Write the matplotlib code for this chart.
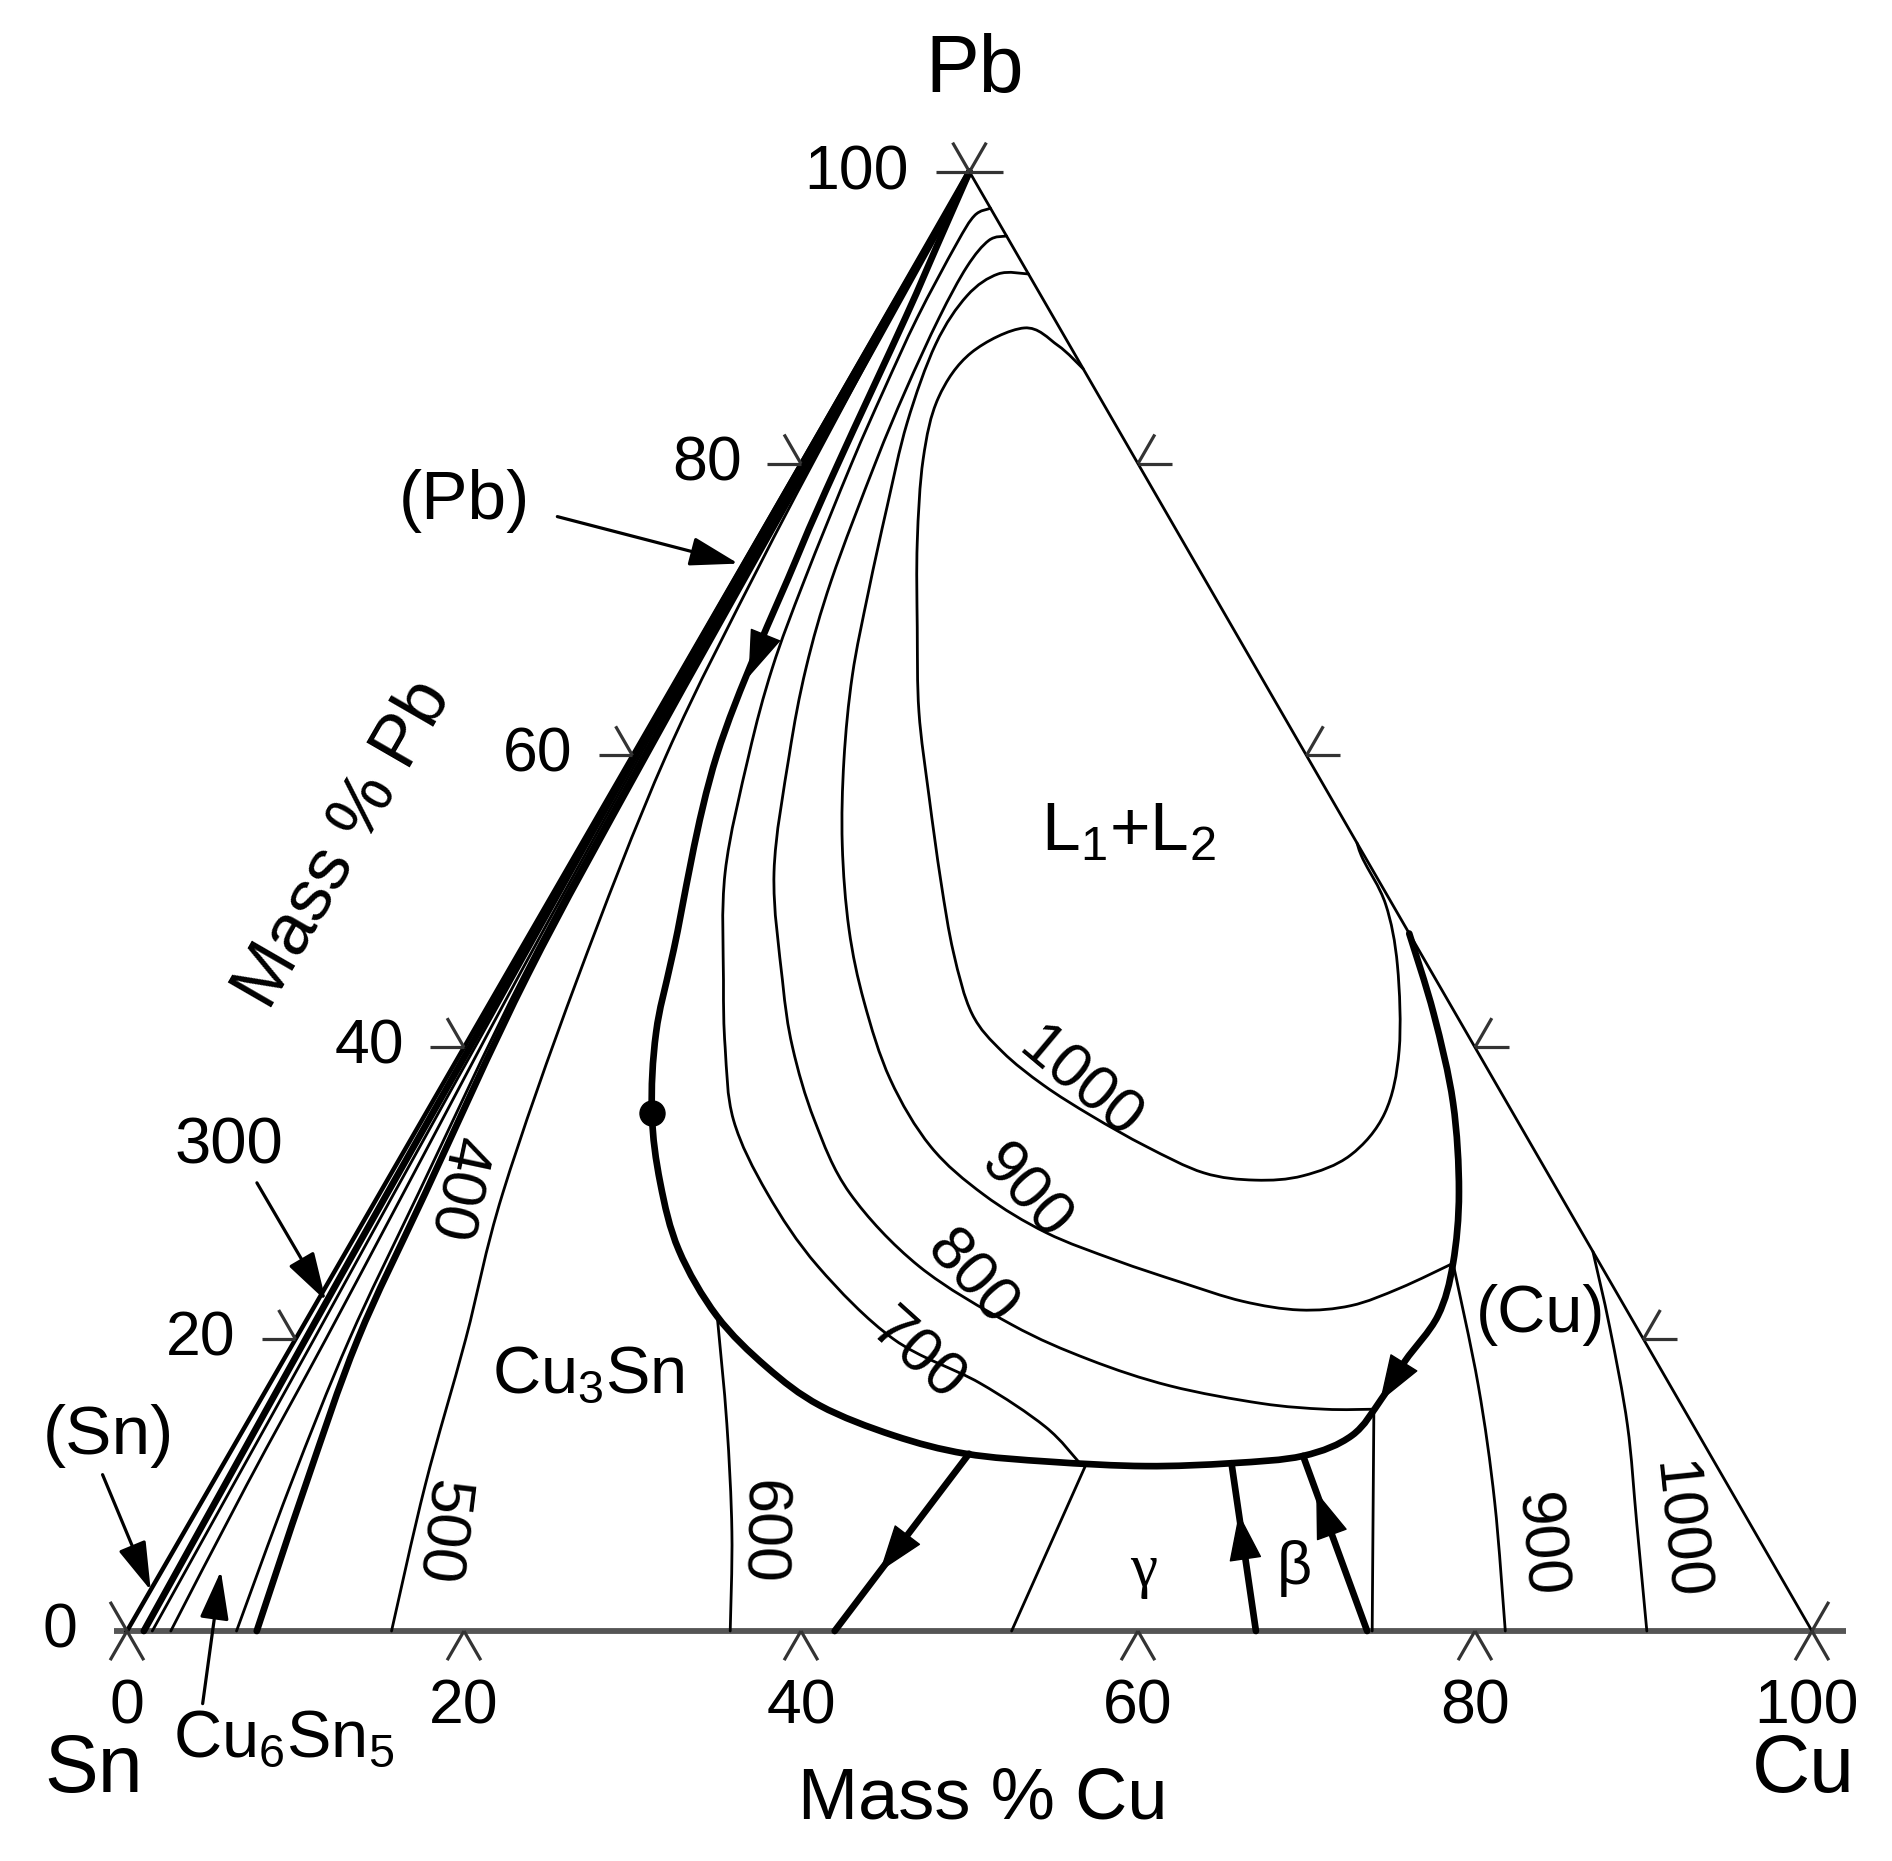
import numpy as np
import matplotlib
matplotlib.use("Agg")
import matplotlib.pyplot as plt
from matplotlib.path import Path
from matplotlib.patches import PathPatch, FancyArrowPatch

plt.rcParams['font.family'] = ['Liberation Sans', 'DejaVu Sans']
plt.rcParams['mathtext.fontset'] = 'custom'
plt.rcParams['mathtext.rm'] = 'Liberation Sans'
plt.rcParams['mathtext.it'] = 'Liberation Sans:italic'

H = np.sqrt(3) / 2

# axis ticks (mass %)
tick_values = [20, 40, 60, 80]
tick_labels = ['20', '40', '60', '80']

# every curve is a list of (mass % Cu, mass % Pb)
sn_pb_valley = [(1.0, 0), (0.8, 10), (0.6, 20), (0.45, 30), (0.3, 45), (0.15, 60), (0.08, 80), (0.03, 95), (0, 100)]
iso_300 = [(1.5, 0), (1.3, 10), (1.1, 20), (0.85, 30), (0.55, 45), (0.3, 60), (0.15, 80), (0.05, 95), (0, 100)]
near_edge = [(2.6, 0), (2.1, 10), (1.8, 20), (1.4, 30), (0.8, 45), (0.45, 60), (0.25, 80), (0.08, 95), (0, 100)]
iso_400 = [(6.5, 0), (4.7, 10), (3.2, 20), (2.3, 30), (1.05, 45), (0.6, 60), (0.33, 80), (0.1, 95), (0, 100)]
cu6sn5_cu3sn = [(7.7, 0), (5.6, 10), (3.7, 20), (2.7, 30), (1.3, 45), (0.8, 60), (0.45, 80), (0.15, 95), (0, 100)]
iso_500 = [(15.7, 0), (12.7, 10), (10.1, 20), (7.3, 30), (4.4, 44.6), (2.0, 60), (1.0, 73.4),
           (0.5, 85), (0.15, 95), (0, 100)]

monotectic = [(0.0, 100), (0.6, 95), (1.2, 90), (2.2, 80), (3.0, 73.4), (5.0, 60), (9.1, 46.7),
              (10.9, 41.0), (13.4, 35.5), (16.3, 30.7), (19.7, 26.1), (24.2, 21.6), (28.9, 18.1),
              (33.4, 15.45), (38.8, 13.4), (43.7, 12.15), (49.0, 11.6), (54.8, 11.3), (59.8, 11.5),
              (63.8, 12.0), (66.0, 13.4), (66.5, 15.9), (66.6, 18.5), (67.0, 21.6), (66.1, 25.2),
              (64.0, 30.1), (60.6, 36.2), (56.4, 42.3), (52.2, 47.8)]
invariant_point = (13.4, 35.5)

iso_600 = [(24.4, 21.3), (28.5, 14.2), (32.5, 6.8), (35.8, 0)]
iso_700 = [(2.5, 97.5), (1.8, 97.0), (1.7, 95.0), (1.9, 90.0), (2.4, 85.0), (3.0, 80.0), (4.2, 72.0),
           (5.3, 66.0), (6.9, 60.0), (9.5, 52.0), (13.1, 44.6), (15.5, 40.0), (18.5, 35.0),
           (23.0, 30.0), (28.5, 25.0), (35.5, 20.0), (42.1, 17.0), (47.5, 14.0), (50.8, 11.5)]
iso_700_gamma = [(51.2, 11.5), (52.5, 0)]
iso_800 = [(4.4, 95.6), (3.5, 95.3), (3.1, 93.5), (3.2, 90.0), (3.7, 85.0), (4.4, 80.0), (5.8, 72.0),
           (7.3, 66.0), (9.3, 60.0), (12.4, 52.0), (16.6, 44.6), (19.5, 40.0), (23.3, 35.0),
           (27.9, 30.0), (34.5, 25.0), (42.0, 21.0), (47.8, 18.6), (53.5, 16.8), (59.5, 15.6),
           (63.5, 15.2), (66.4, 15.2)]
iso_800_cu = [(66.4, 15.2), (73.9, 0)]
iso_900 = [(7.0, 93.0), (5.2, 93.0), (4.1, 91.5), (3.9, 88.2), (4.9, 82.8), (6.6, 77.0), (8.4, 71.2),
           (10.3, 65.5), (12.7, 59.7), (15.5, 53.9), (18.8, 48.1), (22.2, 43.1), (26.4, 37.8),
           (31.1, 33.2), (35.9, 29.9), (40.9, 27.3), (46.0, 25.4), (50.6, 23.9), (54.9, 22.6),
           (58.6, 22.0), (61.5, 22.3), (63.8, 23.5), (66.1, 25.2)]
iso_900_cu = [(66.1, 25.2), (71.8, 16.8), (76.75, 8.84), (81.8, 0)]
iso_1000 = [(13.5, 86.5), (11.2, 88.1), (8.6, 89.3), (6.3, 87.6), (5.9, 84.5), (7.1, 80.3), (9.6, 74.6),
            (12.5, 68.8), (15.5, 63.0), (19.0, 57.2), (22.6, 51.4), (25.8, 46.5), (29.0, 42.3),
            (32.1, 39.7), (35.7, 37.4), (39.6, 35.3), (43.9, 33.2), (48.2, 31.4), (51.5, 30.9),
            (54.2, 31.2), (56.3, 32.6), (56.9, 35.5), (55.6, 39.8), (52.6, 45.6), (49.8, 49.8),
            (46.9, 52.9), (46.0, 54.0)]
iso_1000_cu = [(74.0, 26.0), (77.6, 20.8), (82.0, 14.1), (85.9, 7.4), (90.2, 0)]

eps_gamma = [(43.9, 12.15), (42.0, 0)]
gamma_beta = [(67.0, 0), (59.8, 11.5)]
beta_cu = [(73.6, 0), (63.8, 12.0)]


def to_xy(pts):
    a = np.asarray(pts, dtype=float)
    return a[:, 0] + a[:, 1] / 2, a[:, 1] * H


def smooth_path(pts):
    # Catmull-Rom through the read points, handed to matplotlib as cubic Beziers
    x, y = to_xy(pts)
    p = np.column_stack([x, y])
    n = len(p)
    verts, codes = [p[0]], [Path.MOVETO]
    for i in range(n - 1):
        p0 = p[max(i - 1, 0)]
        p1, p2 = p[i], p[i + 1]
        p3 = p[min(i + 2, n - 1)]
        verts += [p1 + (p2 - p0) / 6, p2 - (p3 - p1) / 6, p2]
        codes += [Path.CURVE4] * 3
    return Path(verts, codes)


def draw(ax, pts, lw, color='black', z=3):
    ax.add_patch(PathPatch(smooth_path(pts), fill=False, lw=lw, edgecolor=color,
                           capstyle='round', joinstyle='round', zorder=z))


def curve_arrow(ax, pts, i, frac=0.5, reverse=False):
    x, y = to_xy(pts)
    a = np.array([x[i], y[i]])
    b = np.array([x[i + 1], y[i + 1]])
    if reverse:
        a, b = b, a
    d = (b - a) / np.hypot(*(b - a))
    mid = a + (b - a) * frac
    ax.add_patch(FancyArrowPatch(mid - d * 1.5, mid + d * 1.5,
                                 arrowstyle='-|>,head_length=1.2,head_width=0.42',
                                 mutation_scale=26, color='black', lw=1,
                                 shrinkA=0, shrinkB=0, zorder=5))


def label_arrow(ax, tail, head):
    ax.add_patch(FancyArrowPatch(tail, head, arrowstyle='-|>,head_length=1.2,head_width=0.36',
                                 mutation_scale=25, color='black', lw=2.3,
                                 shrinkA=0, shrinkB=0, zorder=5))


TL = 2.0


def tick_mark(ax, cu, pb, dirs):
    x0, y0 = cu + pb / 2, pb * H
    for dx, dy in dirs:
        ax.plot([x0, x0 + dx * TL], [y0, y0 + dy * TL], color='#333333', lw=2.3,
                solid_capstyle='butt', zorder=4)


fig = plt.figure(figsize=(18.92, 18.61), dpi=100)
ax = fig.add_axes([0, 0, 1, 1])
ax.set_xlim(-7.537, 104.75)
ax.set_ylim(-13.65, 96.80)
ax.axis('off')

# triangle sides
ax.plot([-0.8, 102.0], [0, 0], color='#555555', lw=4.2, solid_capstyle='butt', zorder=2)
xs, ys = to_xy([(0, 0), (0, 100)])
ax.plot(xs, ys, color='black', lw=3.2, zorder=2)
xs, ys = to_xy([(0, 100), (100, 0)])
ax.plot(xs, ys, color='black', lw=2.0, zorder=2)

# ticks
for v in tick_values:
    tick_mark(ax, v, 0, [(-0.5, -H), (0.5, -H)])
    tick_mark(ax, 0, v, [(-1, 0), (-0.5, H)])
    tick_mark(ax, 100 - v, v, [(1, 0), (0.5, H)])
tick_mark(ax, 0, 0, [(-0.5, H), (0.5, -H), (-0.5, -H)])
tick_mark(ax, 100, 0, [(0.5, H), (-0.5, -H), (0.5, -H)])
tick_mark(ax, 0, 100, [(-1, 0), (1, 0), (-0.5, H), (0.5, H)])

THIN, THICK = 2.0, 4.8
draw(ax, sn_pb_valley, THICK)
draw(ax, iso_300, THIN)
draw(ax, near_edge, THIN)
draw(ax, iso_400, THIN)
draw(ax, cu6sn5_cu3sn, THICK)
draw(ax, iso_500, THIN)
draw(ax, monotectic, THICK)
for c in [iso_600, iso_700, iso_700_gamma, iso_800, iso_800_cu, iso_900, iso_900_cu,
          iso_1000, iso_1000_cu]:
    draw(ax, c, THIN)
for c in [eps_gamma, gamma_beta, beta_cu]:
    draw(ax, c, THICK)

px, py = to_xy([invariant_point])
ax.plot(px, py, 'o', color='black', ms=18, zorder=6)

curve_arrow(ax, monotectic, 4, 0.48)
curve_arrow(ax, monotectic, 21, 0.5, reverse=True)
curve_arrow(ax, eps_gamma, 0, 0.55)
curve_arrow(ax, gamma_beta, 0, 0.55)
curve_arrow(ax, beta_cu, 0, 0.66)

# label arrows
label_arrow(ax, (25.54, 66.14), (36.28, 63.35))
label_arrow(ax, (7.71, 26.6), (11.8, 19.6))
label_arrow(ax, (-1.45, 9.28), (1.41, 2.41))
label_arrow(ax, (4.49, -4.31), (5.57, 3.56))


def txt(x, y, s, size, rot=0, **kw):
    ax.text(x, y, s, fontsize=size, ha='center', va='center', rotation=rot,
            rotation_mode='anchor', zorder=7, **kw)


txt(50.32, 92.6, 'Pb', 58)
txt(-1.95, -8.33, 'Sn', 58)
txt(99.5, -8.33, 'Cu', 58)

TS = 45
txt(43.3, 86.55, '100', TS)
for v, lab in zip(tick_values, tick_labels):
    txt(v / 2 - 5.6, v * H, lab, TS)
    txt(v, -4.53, lab, TS)
txt(-3.96, 0, '0', TS)
txt(0, -4.53, '0', TS)
txt(99.66, -4.53, '100', TS)

txt(50.8, -10.05, 'Mass % Cu', 52)
txt(12.87, 46.67, 'Mass % Pb', 52, rot=60)

txt(20.03, 67.07, '(Pb)', 50)
txt(6.07, 28.76, '300', 47)
txt(-1.09, 11.58, '(Sn)', 50)
txt(9.29, -6.46, r'Cu$_\mathrm{6}$Sn$_\mathrm{5}$', 48)
txt(27.4, 15.16, r'Cu$_\mathrm{3}$Sn', 48)
txt(59.4, 47.39, r'L$_\mathrm{1}$+L$_\mathrm{2}$', 50)
txt(83.9, 18.73, '(Cu)', 48)
txt(60.33, 3.56, 'γ', 44, family=['Liberation Serif', 'DejaVu Serif'])
txt(69.3, 3.7, 'β', 44)

IS = 45
txt(19.53, 26.26, '400', IS, rot=-102)
txt(18.6, 5.85, '500', IS, rot=-97)
txt(37.6, 5.85, '600', IS, rot=-91)
txt(46.9, 16.3, '700', IS, rot=-42)
txt(50.1, 20.9, '800', IS, rot=-48)
txt(53.3, 26.05, '900', IS, rot=-48)
txt(56.55, 32.5, '1000', IS, rot=-40)
txt(83.76, 5.13, '900', IS, rot=-85)
txt(92.0, 5.99, '1000', IS, rot=-84)

fig.savefig('out.png', dpi=100, facecolor='white')
